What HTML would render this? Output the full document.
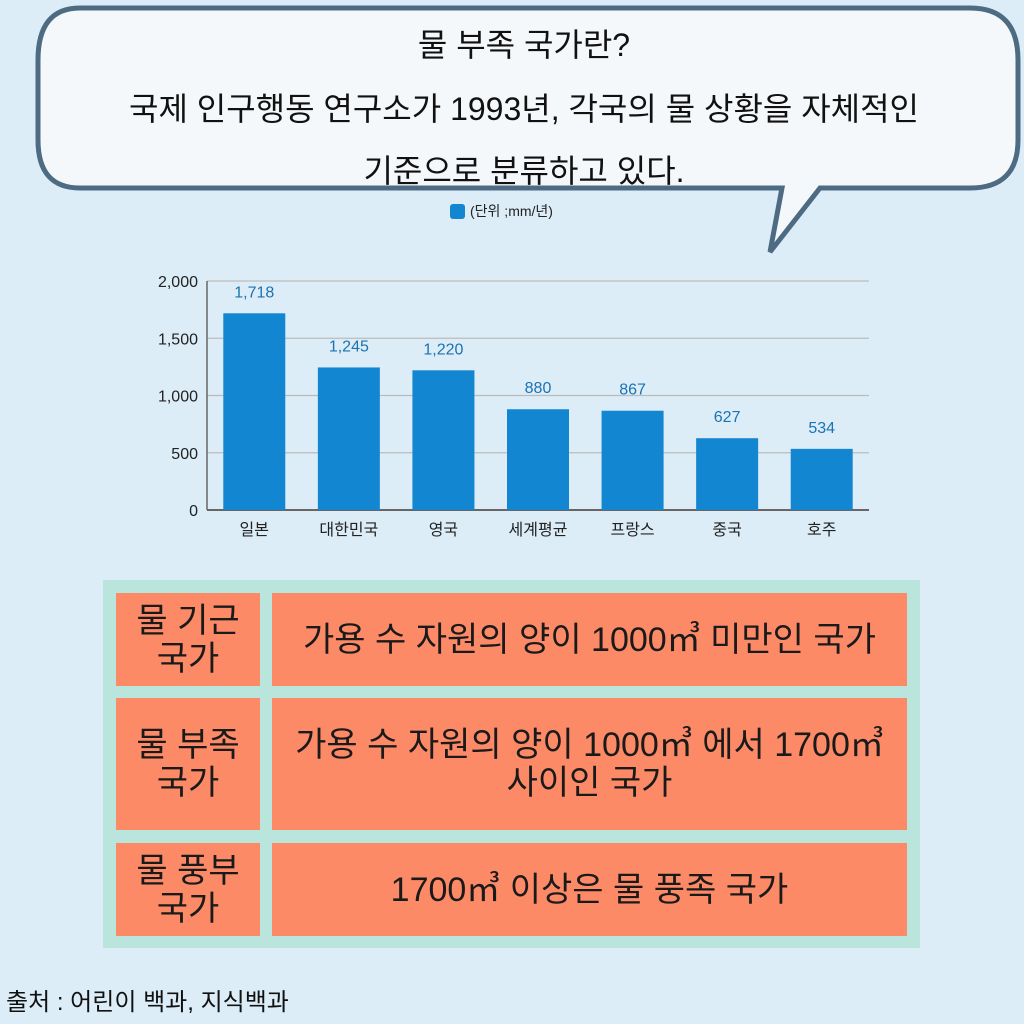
<!DOCTYPE html>
<html><head><meta charset="utf-8"><style>
body{margin:0;width:1024px;height:1024px;background:#dcedf7;font-family:"Liberation Sans","Noto Sans CJK KR",sans-serif;position:relative;overflow:hidden}
.t{position:absolute;text-align:center;color:#111}
.cell{position:absolute;background:#fd8a66;display:flex;align-items:center;justify-content:center;text-align:center;font-size:34px;line-height:38px;color:#1a1a1a}
</style></head><body>
<svg width="1024" height="260" style="position:absolute;left:0;top:0">
<path d="M80,8 L970,8 Q1018,8 1018,60 L1018,140 Q1018,188 970,188 L820,188 L770,252 L782,188 L80,188 Q38,188 38,140 L38,60 Q38,8 80,8 Z" fill="#f4f8fa" stroke="#4d6b82" stroke-width="5"/>
</svg>
<div class="t" style="left:0;width:1048px;top:20px;font-size:32px">물 부족 국가란?</div>
<div class="t" style="left:0;width:1048px;top:84px;font-size:32px">국제 인구행동 연구소가 1993년, 각국의 물 상황을 자체적인</div>
<div class="t" style="left:0;width:1048px;top:146px;font-size:32px">기준으로 분류하고 있다.</div>
<div style="position:absolute;left:450px;top:201px;font-size:14px;color:#222;display:flex;align-items:center;gap:5px"><span style="width:15px;height:15px;background:#1286d0;border-radius:3px;display:inline-block"></span>(단위 ;mm/년)</div>
<svg id="chart" width="1024" height="560" style="position:absolute;left:0;top:0"></svg>
<div style="position:absolute;left:103px;top:580px;width:817px;height:368px;background:#b9e5dc"></div>
<div class="cell" style="left:116px;top:593px;width:144px;height:93px">물 기근<br>국가</div>
<div class="cell" style="left:272px;top:593px;width:635px;height:93px">가용 수 자원의 양이 1000㎥ 미만인 국가</div>
<div class="cell" style="left:116px;top:698px;width:144px;height:132px">물 부족<br>국가</div>
<div class="cell" style="left:272px;top:698px;width:635px;height:132px">가용 수 자원의 양이 1000㎥ 에서 1700㎥<br>사이인 국가</div>
<div class="cell" style="left:116px;top:843px;width:144px;height:93px">물 풍부<br>국가</div>
<div class="cell" style="left:272px;top:843px;width:635px;height:93px">1700㎥ 이상은 물 풍족 국가</div>
<div style="position:absolute;left:6px;top:982px;font-size:24px;color:#111">출처 : 어린이 백과, 지식백과</div>
<script>
const categories=["일본","대한민국","영국","세계평균","프랑스","중국","호주"];
const values=[1718,1245,1220,880,867,627,534];
const valueLabels=["1,718","1,245","1,220","880","867","627","534"];
const ticks=[0,500,1000,1500,2000];
const tickLabels=["0","500","1,000","1,500","2,000"];
const svg=document.getElementById('chart');const NS='http://www.w3.org/2000/svg';
const x0=207,x1=869,y0=510,y1=281;
const y=v=>y0-(v/2000)*(y0-y1);
const band=(x1-x0)/categories.length;
const xc=i=>x0+band*(i+0.5);
function mk(t,a){const e=document.createElementNS(NS,t);for(const k in a)e.setAttribute(k,a[k]);svg.appendChild(e);return e;}
ticks.forEach((t,i)=>{
const g=mk('line',{x1:x0,x2:x1,y1:y(t),y2:y(t),stroke:t===0?'#666':'#bbb','stroke-width':t===0?2:1.2});


const l=mk('text',{x:x0-9,y:y(t)+6,'text-anchor':'end','font-size':16,fill:'#222','font-family':'Liberation Sans, sans-serif'});
l.textContent=tickLabels[i];


});
const ax=mk('line',{x1:x0,x2:x0,y1:y1,y2:y0,stroke:'#666','stroke-width':1.5});


categories.forEach((c,i)=>{
const bw=62;
const r=mk('rect',{x:xc(i)-bw/2,y:y(values[i]),width:bw,height:y0-y(values[i]),fill:'#1286d0'});


const v=mk('text',{x:xc(i),y:y(values[i])-16,'text-anchor':'middle','font-size':16,fill:'#1a73b3','font-family':'Liberation Sans, sans-serif'});
v.textContent=valueLabels[i];


const l=mk('text',{x:xc(i),y:y0+25,'text-anchor':'middle','font-size':16,fill:'#222','font-family':'Liberation Sans, Noto Sans CJK KR, sans-serif'});
l.textContent=c;


});
</script>
</body></html>
